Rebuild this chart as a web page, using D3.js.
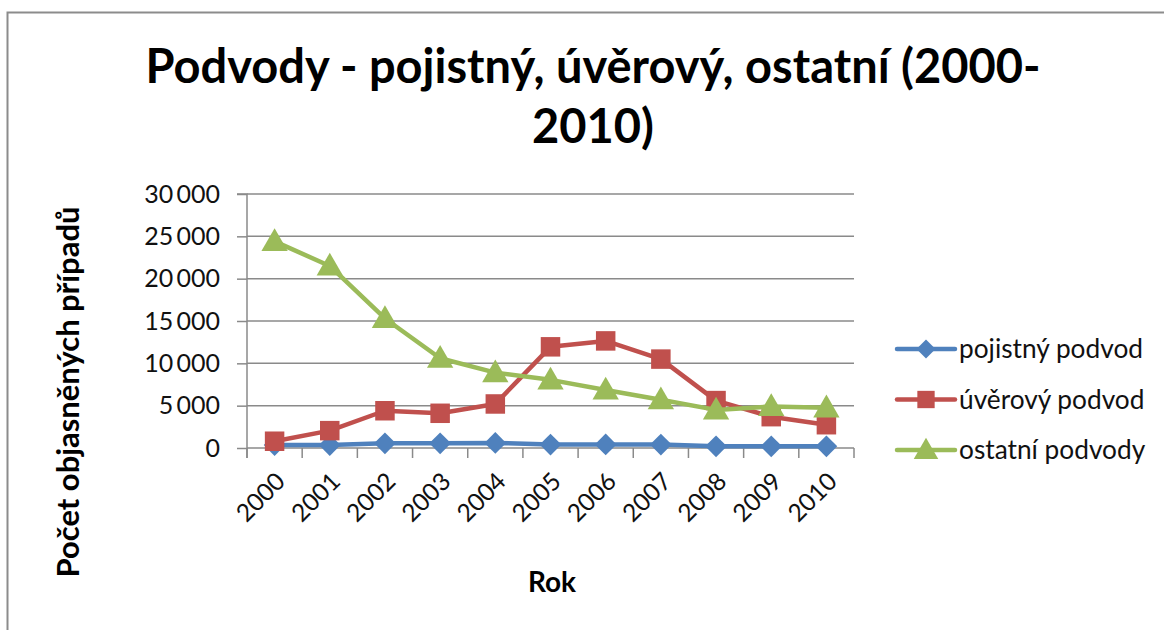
<!DOCTYPE html>
<html>
<head>
<meta charset="utf-8">
<script src="https://cdn.jsdelivr.net/npm/d3@7"></script>
<style>
  html, body { margin: 0; padding: 0; background: #fff; }
  svg { display: block; font-family: Lato, "Open Sans", sans-serif; }
</style>
</head>
<body>
<svg id="chart" width="1164" height="630"></svg>
<script>
const years = ["2000", "2001", "2002", "2003", "2004", "2005", "2006", "2007", "2008", "2009", "2010"];
const pojistny = [350, 350, 550, 550, 600, 400, 420, 400, 200, 200, 200];
const uverovy = [800, 2050, 4400, 4100, 5200, 11950, 12650, 10500, 5600, 3700, 2750];
const ostatni = [24400, 21500, 15300, 10600, 8900, 8050, 6850, 5700, 4500, 4900, 4750];
const yTicks = [0, 5000, 10000, 15000, 20000, 25000, 30000];

const seriesNames = ["pojistný podvod", "úvěrový podvod", "ostatní podvody"];
const seriesColors = ["#4F81BD", "#C0504D", "#9BBB59"];
const seriesShapes = [d3.symbolDiamond2, d3.symbolSquare, d3.symbolTriangle];

const svg = d3.select("#chart");
const plot = { left: 247, right: 854, top: 194, bottom: 448 };

// chart frame (only top and left edges fall inside the picture)
svg.append("rect")
  .attr("x", 7.5).attr("y", 12.5)
  .attr("width", 1200).attr("height", 700)
  .attr("fill", "none").attr("stroke", "#8c8c8c").attr("stroke-width", 2);

const x = d3.scaleBand().domain(years).range([plot.left, plot.right]).padding(0);
const y = d3.scaleLinear().domain([0, 30000]).range([plot.bottom, plot.top]);

const czFormat = d3.formatLocale({ decimal: ",", thousands: "\u2009", grouping: [3], currency: ["", " Kč"] }).format(",d");

function fitWidth(sel, target) {
  const w = sel.node().getComputedTextLength();
  const fs = parseFloat(sel.attr("font-size"));
  sel.attr("font-size", (fs * target / w).toFixed(2));
}

// title
const t1 = svg.append("text")
  .attr("x", 593).attr("y", 83)
  .attr("text-anchor", "middle").attr("font-weight", "bold").attr("font-size", 44)
  .attr("fill", "#000")
  .text("Podvody - pojistný, úvěrový, ostatní (2000-");
fitWidth(t1, 895);
svg.append("text")
  .attr("x", 593).attr("y", 143)
  .attr("text-anchor", "middle").attr("font-weight", "bold").attr("font-size", t1.attr("font-size"))
  .attr("fill", "#000")
  .text("2010)");

// gridlines
svg.append("g")
  .selectAll("line")
  .data(yTicks.filter((d) => d > 0))
  .join("line")
  .attr("x1", plot.left).attr("x2", plot.right)
  .attr("y1", (d) => y(d)).attr("y2", (d) => y(d))
  .attr("stroke", "#8a8a8a").attr("stroke-width", 1.5);

// y axis
const yAxis = svg.append("g")
  .attr("transform", `translate(${plot.left},0)`)
  .call(d3.axisLeft(y).tickValues(yTicks).tickFormat(czFormat).tickSize(10).tickPadding(17));
yAxis.select(".domain").attr("stroke", "#8a8a8a").attr("stroke-width", 1.5)
  .attr("d", `M-10,${plot.top}H0V${plot.bottom + 10}`);
yAxis.selectAll(".tick line").attr("stroke", "#8a8a8a").attr("stroke-width", 1.5);
yAxis.selectAll(".tick text")
  .attr("font-size", 25).attr("font-family", "Lato, sans-serif").attr("fill", "#111");

// x axis
const xAxisG = svg.append("g").attr("transform", `translate(0,${plot.bottom})`);
xAxisG.append("line")
  .attr("x1", plot.left).attr("x2", plot.right)
  .attr("stroke", "#8a8a8a").attr("stroke-width", 1.5);
xAxisG.selectAll("line.tk")
  .data(years.concat(["end"]))
  .join("line")
  .attr("class", "tk")
  .attr("x1", (d, i) => (i < years.length ? x(d) : x(years[years.length - 1]) + x.bandwidth()))
  .attr("x2", (d, i) => (i < years.length ? x(d) : x(years[years.length - 1]) + x.bandwidth()))
  .attr("y1", 0).attr("y2", 10)
  .attr("stroke", "#8a8a8a").attr("stroke-width", 1.5);
xAxisG.selectAll("text")
  .data(years)
  .join("text")
  .attr("transform", (d) => `translate(${x(d) + x.bandwidth() / 2 + 6},${29}) rotate(-45)`)
  .attr("text-anchor", "end")
  .attr("dy", "0.35em")
  .attr("font-size", 24.5).attr("fill", "#111")
  .text((d) => d);

// axis titles
const yTitle = svg.append("text")
  .attr("transform", `translate(79,392) rotate(-90)`)
  .attr("text-anchor", "middle").attr("font-weight", "bold").attr("font-size", 26)
  .attr("fill", "#000")
  .text("Počet objasněných případů");
fitWidth(yTitle, 371);
svg.append("text")
  .attr("x", 552).attr("y", 592)
  .attr("text-anchor", "middle").attr("font-weight", "bold").attr("font-size", 28)
  .attr("fill", "#000")
  .text("Rok");

// series
const allSeries = [pojistny, uverovy, ostatni];
const line = d3.line()
  .x((d, i) => x(years[i]) + x.bandwidth() / 2)
  .y((d) => y(d));

allSeries.forEach((vals, s) => {
  const g = svg.append("g");
  g.append("path")
    .datum(vals)
    .attr("fill", "none")
    .attr("stroke", seriesColors[s])
    .attr("stroke-width", 4.5)
    .attr("stroke-linejoin", "round")
    .attr("d", line);
  g.selectAll("path.mk")
    .data(vals)
    .join("path")
    .attr("class", "mk")
    .attr("transform", (d, i) => `translate(${x(years[i]) + x.bandwidth() / 2},${y(d) + (s === 2 ? 2 : 0)})`)
    .attr("d", d3.symbol().type(seriesShapes[s]).size(s === 2 ? 300 : s === 1 ? 380 : 300))
    .attr("fill", seriesColors[s]);
});

// legend
const legend = svg.append("g");
const legendTexts = [];
seriesNames.forEach((name, s) => {
  const ly = 349 + s * 50.5;
  legend.append("line")
    .attr("x1", 897).attr("x2", 955).attr("y1", ly).attr("y2", ly)
    .attr("stroke", seriesColors[s]).attr("stroke-width", 4.5).attr("stroke-linecap", "round");
  legend.append("path")
    .attr("transform", `translate(926,${ly + (s === 2 ? 2 : 0)})`)
    .attr("d", d3.symbol().type(seriesShapes[s]).size(s === 2 ? 260 : s === 1 ? 300 : 230))
    .attr("fill", seriesColors[s]);
  legendTexts.push(legend.append("text")
    .attr("x", 959).attr("y", ly).attr("dy", "0.35em")
    .attr("font-size", 24).attr("fill", "#111")
    .text(name));
});
fitWidth(legendTexts[0], 184);
legendTexts.forEach((t) => t.attr("font-size", legendTexts[0].attr("font-size")));
</script>
</body>
</html>
